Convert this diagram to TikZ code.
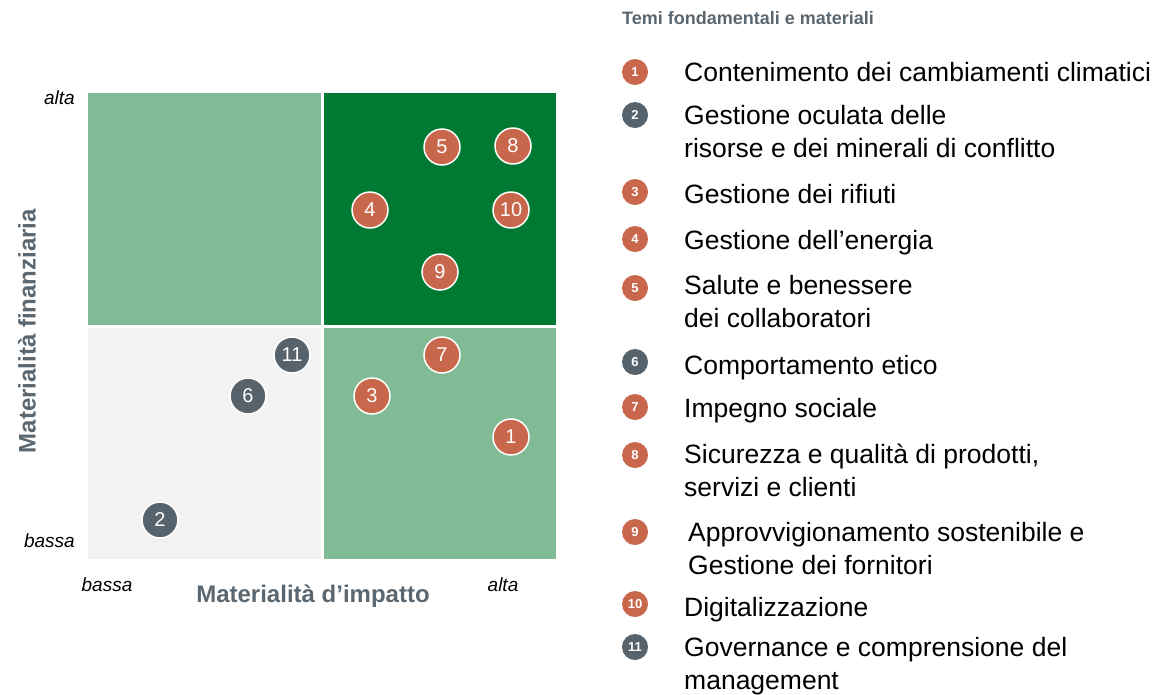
\documentclass[tikz,border=0pt]{standalone}
\usepackage{fontspec}
\setmainfont{Liberation Sans}
\definecolor{darkgreen}{HTML}{007A33}
\definecolor{lightgreen}{HTML}{80BB96}
\definecolor{lightgrey}{HTML}{F2F2F2}
\definecolor{rust}{HTML}{C9674D}
\definecolor{slate}{HTML}{56626C}
\definecolor{axisgrey}{HTML}{5B6770}
\begin{document}
\begin{tikzpicture}
  [x=1pt,y=-1pt,
   dot/.style={circle,draw=white,line width=1.5pt,minimum size=36pt,inner sep=0pt,
     text=white,font=\fontsize{20}{20}\selectfont},
   keydot/.style={circle,minimum size=26pt,inner sep=0pt,text=white,
     font=\fontsize{13}{13}\selectfont\bfseries},
   keytext/.style={anchor=base west,align=left,inner sep=0pt,
     font=\fontsize{26.5}{32.5}\selectfont},
   level/.style={font=\fontsize{19}{19}\selectfont\itshape,inner sep=0pt},
   axis/.style={text=axisgrey,font=\fontsize{24}{24}\selectfont\bfseries,inner sep=0pt}]
\useasboundingbox (0,0) rectangle (1158,694);

% quadrants
\fill[lightgreen] (88,93) rectangle (321,325);
\fill[darkgreen] (324,93) rectangle (556,325);
\fill[lightgrey] (88,328) rectangle (321,559);
\fill[lightgreen] (324,328) rectangle (556,559);

% axes
\node[level,anchor=east] (ytop) at (75,98) {alta};
\node[level,anchor=east] (ybot) at (75,541) {bassa};
\node[level] (xlow) at (107,585) {bassa};
\node[level] (xhigh) at (503,585) {alta};
\node[axis] (xlab) at (313,596) {Materialità d’impatto};
\node[axis,rotate=90] (ylab) at (27,331) {Materialità finanziaria};

% topics in the matrix
\foreach \n/\x/\y/\c in {1/511/437/rust,2/160/520/slate,3/372/396/rust,
    4/370/210/rust,5/442/147/rust,6/248/396/slate,7/442/355/rust,
    8/513/146/rust,9/440/272/rust,10/511/210/rust,11/292/355/slate}
  \node[dot,fill=\c] (p\n) at (\x,\y) {\n};

% legend (base = last line)
\node[anchor=west,text=axisgrey,font=\fontsize{18}{18}\selectfont\bfseries,inner sep=0pt]
  (title) at (622,18) {Temi fondamentali e materiali};
\foreach \n/\y/\tx/\ty/\c/\t in {1/72/684/81/rust/{Contenimento dei cambiamenti climatici},
    2/115/684/157/slate/{Gestione oculata delle\\risorse e dei minerali di conflitto},
    3/192/684/203/rust/{Gestione dei rifiuti},
    4/239/684/249/rust/{Gestione dell’energia},
    5/288/684/327/rust/{Salute e benessere\\dei collaboratori},
    6/362/684/374/slate/{Comportamento etico},
    7/407/684/417/rust/{Impegno sociale},
    8/455/684/496/rust/{Sicurezza e qualità di prodotti,\\servizi e clienti},
    9/532/688/574/rust/{Approvvigionamento sostenibile e\\Gestione dei fornitori},
    10/604/684/616/rust/{Digitalizzazione},
    11/647/684/689/slate/{Governance e comprensione del\\management}}
{
  \node[keydot,fill=\c] (k\n) at (635,\y) {\n};
  \node[keytext] (t\n) at (\tx,\ty) {\t};
}
\end{tikzpicture}
\end{document}
